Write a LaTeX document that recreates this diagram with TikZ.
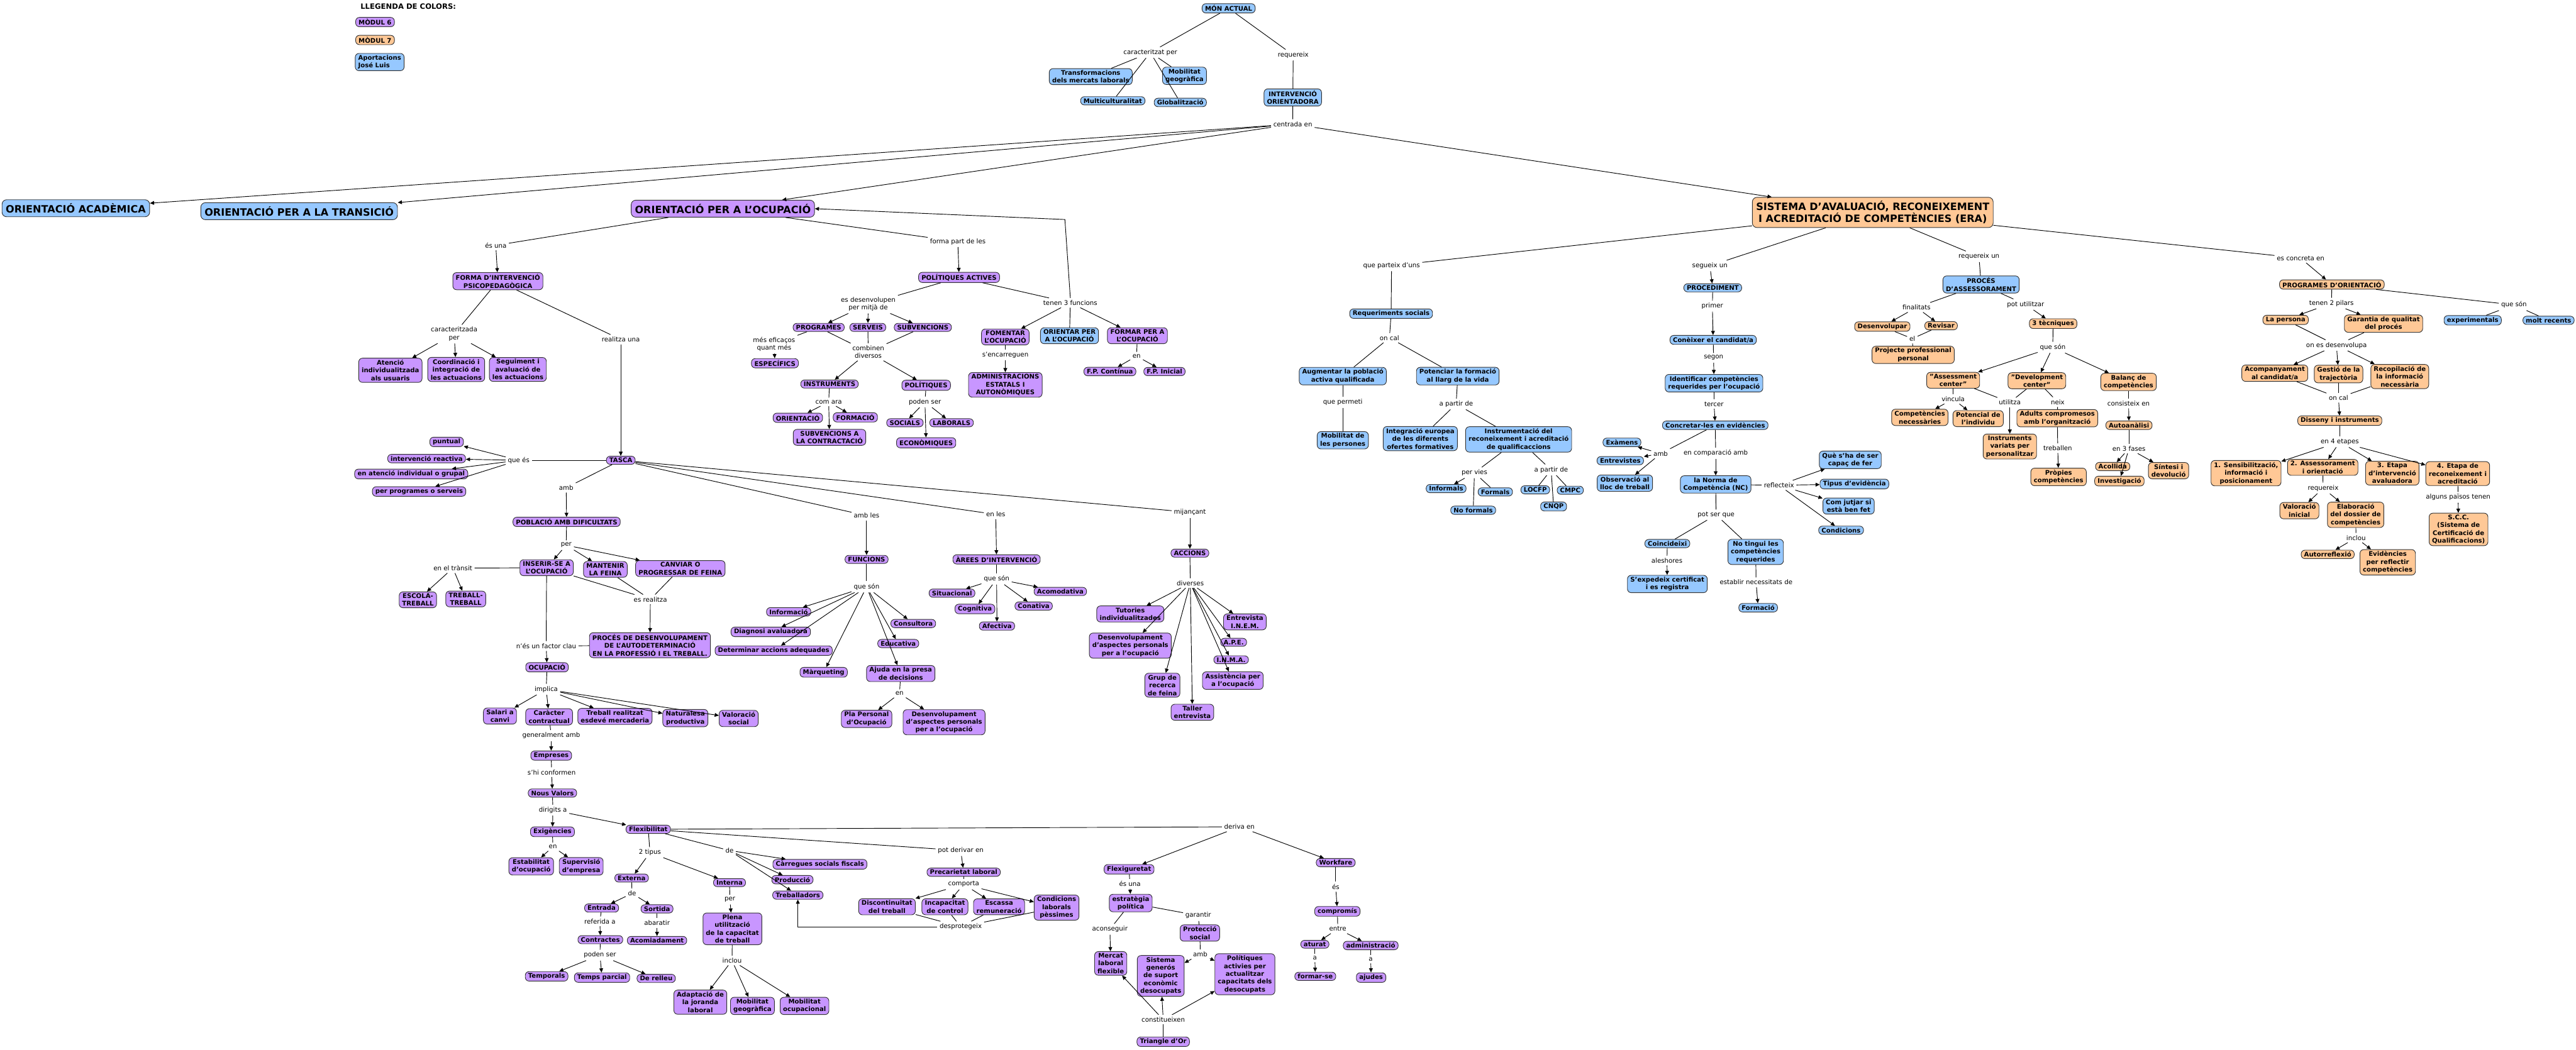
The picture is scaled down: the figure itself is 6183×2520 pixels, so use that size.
\documentclass[tikz,border=0pt]{standalone}
\usepackage{fontspec}
\setmainfont{DejaVu Sans}
\usepackage{tikz}
\usetikzlibrary{arrows.meta,positioning}
\definecolor{lila}{RGB}{200,150,255}
\definecolor{blau}{RGB}{150,200,255}
\definecolor{taronja}{RGB}{255,200,150}
\newcommand{\cmfont}{\fontsize{4.35}{5.35}\selectfont\bfseries}
\newcommand{\cmgran}{\fontsize{6.9}{8.2}\selectfont\bfseries}
\newcommand{\cmenllac}{\fontsize{4.4}{5.3}\selectfont}

\begin{document}
\begin{tikzpicture}[
	x=0.1mm, y=-0.1mm,
	box/.style={rectangle, rounded corners=0.9mm, draw=black!80, line width=0.4pt,
		align=center, font=\cmfont, inner xsep=0.7mm, inner ysep=0.4mm},
	pbox/.style={box, fill=lila},
	bbox/.style={box, fill=blau},
	obox/.style={box, fill=taronja},
	gran/.style={font=\cmgran, inner xsep=0.9mm, inner ysep=0.9mm, rounded corners=1.1mm},
	lbl/.style={font=\cmenllac, align=center, inner sep=0.5mm},
	lnk/.style={line width=0.4pt},
	arr/.style={lnk, -{Triangle[length=1mm, width=0.9mm]}}
	]
	\useasboundingbox (0,0) rectangle (6183,2520);
	
	% llegenda
	\node[font=\fontsize{5}{6}\selectfont\bfseries, anchor=west] (llegenda) at (853,16) {LLEGENDA DE COLORS:};
	\node[pbox, anchor=west] (mod6) at (853,53) {MÒDUL 6};
	\node[obox, anchor=west] (mod7) at (853,96) {MÒDUL 7};
	\node[bbox, anchor=west, align=left] (joseluis) at (852,149) {Aportacions\\José Luis};
	
	% món actual
	\node[bbox] (monactual) at (2949,20) {MÓN ACTUAL};
	\node[lbl] (caractper) at (2761,126) {caracteritzat per};
	\node[bbox] (transf) at (2618,184) {Transformacions\\dels mercats laborals};
	\node[bbox] (mobgeo) at (2843,182) {Mobilitat\\geogràfica};
	\node[bbox] (multicult) at (2671,242) {Multiculturalitat};
	\node[bbox] (global) at (2833,246) {Globalització};
	\node[lbl] (requereix) at (3104,132) {requereix};
	\node[bbox] (interv) at (3103,234) {INTERVENCIÓ\\ORIENTADORA};
	\node[lbl] (centrada) at (3103,298) {centrada en};
	\node[bbox, gran] (oacad) at (182,500) {ORIENTACIÓ ACADÈMICA};
	\node[bbox, gran] (otrans) at (718,507) {ORIENTACIÓ PER A LA TRANSICIÓ};
	\node[pbox, gran] (oocup) at (1735,501) {ORIENTACIÓ PER A L'OCUPACIÓ};
	\node[obox, gran] (sistema) at (4495,510) {SISTEMA D'AVALUACIÓ, RECONEIXEMENT\\I ACREDITACIÓ DE COMPETÈNCIES (ERA)};
	
	% orientació per a l'ocupació
	\node[lbl] (esuna) at (1190,589) {és una};
	\node[pbox] (forma) at (1195,675) {FORMA D'INTERVENCIÓ\\PSICOPEDAGÒGICA};
	\node[lbl] (caractzper) at (1090,802) {caracteritzada\\per};
	\node[pbox] (atencio) at (937,889) {Atenció\\individualitzada\\als usuaris};
	\node[pbox] (coordinacio) at (1095,887) {Coordinació i\\integració de\\les actuacions};
	\node[pbox] (seguiment) at (1243,887) {Seguiment i\\avaluació de\\les actuacions};
	\node[lbl] (realitzauna) at (1490,815) {realitza una};
	\node[pbox] (tasca) at (1490,1105) {TASCA};
	\node[lbl] (quees) at (1245,1105) {que és};
	\node[pbox] (puntual) at (1072,1061) {puntual};
	\node[pbox] (reactiva) at (1024,1101) {intervenció reactiva};
	\node[pbox] (grupal) at (987,1138) {en atenció individual o grupal};
	\node[pbox] (perprog) at (1006,1180) {per programes o serveis};
	\node[lbl] (amb) at (1359,1171) {amb};
	\node[pbox] (poblacio) at (1360,1253) {POBLACIÓ AMB DIFICULTATS};
	\node[lbl] (per) at (1359,1309) {per};
	\node[pbox] (inserir) at (1312,1363) {INSERIR-SE A\\L'OCUPACIÓ};
	\node[pbox] (mantenir) at (1453,1367) {MANTENIR\\LA FEINA};
	\node[pbox] (canviar) at (1633,1365) {CANVIAR O\\PROGRESSAR DE FEINA};
	\node[lbl] (transit) at (1087,1364) {en el trànsit};
	\node[pbox] (escola) at (1003,1440) {ESCOLA-\\TREBALL};
	\node[pbox] (treball) at (1118,1438) {TREBALL-\\TREBALL};
	\node[lbl] (esrealitza) at (1561,1439) {es realitza};
	\node[pbox] (determinar) at (1857,1562) {Determinar accions adequades};
	\node[pbox] (proces) at (1560,1549) {PROCÉS DE DESENVOLUPAMENT\\DE L'AUTODETERMINACIÓ\\EN LA PROFESSIÓ I EL TREBALL.};
	\node[lbl] (factorclau) at (1311,1551) {n'és un factor clau};
	\node[pbox] (ocupacio) at (1313,1602) {OCUPACIÓ};
	\node[lbl] (implica) at (1311,1655) {implica};
	\node[pbox] (salari) at (1200,1719) {Salari a\\canvi};
	\node[pbox] (caracter) at (1318,1721) {Caràcter\\contractual};
	\node[pbox] (mercaderia) at (1476,1720) {Treball realitzat\\esdevé mercaderia};
	\node[pbox] (naturalesa) at (1645,1724) {Naturalesa\\productiva};
	\node[pbox] (valoracio) at (1773,1725) {Valoració\\social};
	\node[lbl] (generalment) at (1323,1766) {generalment amb};
	\node[pbox] (empreses) at (1323,1814) {Empreses};
	\node[lbl] (conformen) at (1324,1854) {s'hi conformen};
	\node[pbox] (nousvalors) at (1326,1904) {Nous Valors};
	\node[lbl] (dirigits) at (1327,1945) {dirigits a};
	\node[pbox] (exigencies) at (1326,1997) {Exigències};
	\node[pbox] (flexibilitat) at (1556,1991) {Flexibilitat};
	\node[lbl] (en1) at (1327,2033) {en};
	\node[pbox] (estabilitat) at (1275,2080) {Estabilitat\\d'ocupació};
	\node[pbox] (supervisio) at (1395,2080) {Supervisió\\d'empresa};
	\node[lbl] (dostipus) at (1560,2047) {2 tipus};
	\node[pbox] (externa) at (1516,2108) {Externa};
	\node[lbl] (de1) at (1517,2145) {de};
	\node[pbox] (entrada) at (1444,2180) {Entrada};
	\node[pbox] (sortida) at (1577,2182) {Sortida};
	\node[lbl] (referida) at (1440,2212) {referida a};
	\node[lbl] (abaratir) at (1577,2216) {abaratir};
	\node[pbox] (contractes) at (1441,2256) {Contractes};
	\node[pbox] (acomiadament) at (1577,2258) {Acomiadament};
	\node[lbl] (podenser2) at (1440,2293) {poden ser};
	\node[pbox] (temporals) at (1312,2344) {Temporals};
	\node[pbox] (parcial) at (1445,2347) {Temps parcial};
	\node[pbox] (relleu) at (1575,2349) {De relleu};
	\node[lbl] (de2) at (1751,2042) {de};
	\node[pbox] (interna) at (1751,2119) {Interna};
	\node[lbl] (per2) at (1752,2160) {per};
	\node[pbox] (plena) at (1758,2230) {Plena\\utilització\\de la capacitat\\de treball};
	\node[lbl] (inclou1) at (1757,2306) {inclou};
	\node[pbox] (adaptacio) at (1681,2406) {Adaptació de\\la joranda\\laboral};
	\node[pbox] (mobgeo2) at (1806,2415) {Mobilitat\\geogràfica};
	\node[pbox] (mobocup) at (1931,2415) {Mobilitat\\ocupacional};
	\node[pbox] (carregues) at (1968,2075) {Càrregues socials fiscals};
	\node[pbox] (produccio) at (1902,2112) {Producció};
	\node[pbox] (treballadors) at (1915,2149) {Treballadors};
	\node[lbl] (potderivar) at (2306,2042) {pot derivar en};
	\node[pbox] (precarietat) at (2313,2094) {Precarietat laboral};
	\node[lbl] (comporta) at (2313,2123) {comporta};
	\node[pbox] (discontinuitat) at (2129,2177) {Discontinuitat\\del treball};
	\node[pbox] (incapacitat) at (2268,2177) {Incapacitat\\de control};
	\node[pbox] (escassa) at (2398,2177) {Escassa\\remuneració};
	\node[pbox] (condicionsp) at (2536,2179) {Condicions\\laborals\\pèssimes};
	\node[lbl] (desprotegeix) at (2306,2225) {desprotegeix};
	\node[lbl] (derivaen) at (2975,1985) {deriva en};
	\node[pbox] (flexiguretat) at (2710,2087) {Flexiguretat};
	\node[lbl] (esuna2) at (2712,2122) {és una};
	\node[pbox] (estrategia) at (2714,2168) {estratègia\\política};
	\node[lbl] (garantir) at (2876,2198) {garantir};
	\node[lbl] (aconseguir) at (2664,2231) {aconseguir};
	\node[pbox] (proteccio) at (2880,2240) {Protecció\\social};
	\node[lbl] (amb2) at (2881,2291) {amb};
	\node[pbox] (mercat) at (2666,2313) {Mercat\\laboral\\flexible};
	\node[pbox] (generos) at (2786,2343) {Sistema\\generós\\de suport\\econòmic\\desocupats};
	\node[pbox] (polact2) at (2988,2339) {Polítiques\\activies per\\actualitzar\\capacitats dels\\desocupats};
	\node[lbl] (constitueixen) at (2792,2448) {constitueixen};
	\node[pbox] (triangle) at (2792,2501) {Triangle d'Or};
	\node[pbox] (workfare) at (3206,2071) {Workfare};
	\node[lbl] (es) at (3206,2129) {és};
	\node[pbox] (compromis) at (3210,2188) {compromís};
	\node[lbl] (entre) at (3211,2230) {entre};
	\node[pbox] (aturat) at (3156,2267) {aturat};
	\node[pbox] (administracio) at (3290,2270) {administració};
	\node[lbl] (a1) at (3156,2300) {a};
	\node[lbl] (a2) at (3290,2303) {a};
	\node[pbox] (formarse) at (3157,2344) {formar-se};
	\node[pbox] (ajudes) at (3291,2347) {ajudes};
	
	% polítiques actives
	\node[lbl] (formapart) at (2299,580) {forma part de les};
	\node[pbox] (polactives) at (2302,666) {POLÍTIQUES ACTIVES};
	\node[lbl] (desenvolupen) at (2084,730) {es desenvolupen\\per mitjà de};
	\node[lbl] (tenen3) at (2569,727) {tenen 3 funcions};
	\node[pbox] (programes) at (1965,786) {PROGRAMES};
	\node[pbox] (serveis) at (2083,786) {SERVEIS};
	\node[pbox] (subvencions) at (2215,786) {SUBVENCIONS};
	\node[pbox] (fomentar) at (2413,809) {FOMENTAR\\L'OCUPACIÓ};
	\node[bbox] (orientar) at (2567,806) {ORIENTAR PER\\A L'OCUPACIÓ};
	\node[pbox] (formar) at (2730,806) {FORMAR PER A\\L'OCUPACIÓ};
	\node[lbl] (eficacos) at (1858,826) {més eficaços\\quant més};
	\node[lbl] (combinen) at (2084,845) {combinen\\diversos};
	\node[pbox] (especifics) at (1860,872) {ESPECÍFICS};
	\node[lbl] (encarreguen) at (2413,852) {s'encarreguen};
	\node[pbox] (administracions) at (2413,924) {ADMINISTRACIONS\\ESTATALS I\\AUTONÒMIQUES};
	\node[lbl] (en2) at (2728,855) {en};
	\node[pbox] (fpcontinua) at (2664,892) {F.P. Contínua};
	\node[pbox] (fpinicial) at (2795,892) {F.P. Inicial};
	\node[pbox] (instruments) at (1991,922) {INSTRUMENTS};
	\node[pbox] (politiques) at (2223,925) {POLÍTIQUES};
	\node[lbl] (comara) at (1989,965) {com ara};
	\node[pbox] (orientacio) at (1915,1003) {ORIENTACIÓ};
	\node[pbox] (formacio) at (2053,1002) {FORMACIÓ};
	\node[pbox] (subvcontr) at (1991,1050) {SUBVENCIONS A\\LA CONTRACTACIÓ};
	\node[lbl] (podenser) at (2220,965) {poden ser};
	\node[pbox] (socials) at (2172,1015) {SOCIALS};
	\node[pbox] (laborals) at (2284,1015) {LABORALS};
	\node[pbox] (economiques) at (2223,1063) {ECONÒMIQUES};
	
	% funcions, àrees i accions
	\node[lbl] (ambles) at (2080,1238) {amb les};
	\node[lbl] (enles) at (2390,1235) {en les};
	\node[lbl] (mijancant) at (2856,1230) {mijançant};
	\node[pbox] (funcions) at (2080,1343) {FUNCIONS};
	\node[pbox] (arees) at (2392,1343) {ÀREES D'INTERVENCIÓ};
	\node[pbox] (accions) at (2856,1328) {ACCIONS};
	\node[lbl] (queson1) at (2080,1409) {que són};
	\node[pbox] (informacio) at (1893,1469) {Informació};
	\node[pbox] (diagnosi) at (1850,1517) {Diagnosi avaluadora};
	\node[pbox] (consultora) at (2192,1497) {Consultora};
	\node[pbox] (educativa) at (2156,1545) {Educativa};
	\node[pbox] (marqueting) at (1977,1614) {Màrqueting};
	\node[pbox] (ajuda) at (2162,1617) {Ajuda en la presa\\de decisions};
	\node[lbl] (en3) at (2159,1665) {en};
	\node[pbox] (pla) at (2080,1726) {Pla Personal\\d'Ocupació};
	\node[pbox] (desenv2) at (2266,1734) {Desenvolupament\\d'aspectes personals\\per a l'ocupació};
	\node[lbl] (queson2) at (2392,1390) {que són};
	\node[pbox] (situacional) at (2285,1424) {Situacional};
	\node[pbox] (acomodativa) at (2545,1420) {Acomodativa};
	\node[pbox] (cognitiva) at (2340,1462) {Cognitiva};
	\node[pbox] (conativa) at (2481,1455) {Conativa};
	\node[pbox] (afectiva) at (2393,1503) {Afectiva};
	\node[lbl] (diverses) at (2857,1400) {diverses};
	\node[pbox] (tutories) at (2713,1474) {Tutories\\individualitzades};
	\node[pbox] (entrevista) at (2988,1493) {Entrevista\\I.N.E.M.};
	\node[pbox] (desenv1) at (2713,1550) {Desenvolupament\\d'aspectes personals\\per a l'ocupació};
	\node[pbox] (ape) at (2961,1542) {A.P.E.};
	\node[pbox] (inma) at (2955,1584) {I.N.M.A.};
	\node[pbox] (grup) at (2790,1645) {Grup de\\recerca\\de feina};
	\node[pbox] (assistencia) at (2959,1634) {Assistència per\\a l'ocupació};
	\node[pbox] (taller) at (2862,1710) {Taller\\entrevista};
	
	% sistema ERA
	\node[lbl] (parteix) at (3340,638) {que parteix d'uns};
	\node[lbl] (segueix) at (4104,638) {segueix un};
	\node[lbl] (requereixun) at (4750,616) {requereix un};
	\node[lbl] (concreta) at (5522,620) {es concreta en};
	\node[bbox] (requeriments) at (3339,753) {Requeriments socials};
	\node[lbl] (oncal1) at (3335,811) {on cal};
	\node[bbox] (augmentar) at (3223,903) {Augmentar la població\\activa qualificada};
	\node[bbox] (potenciar) at (3499,903) {Potenciar la formació\\al llarg de la vida};
	\node[lbl] (permeti) at (3223,966) {que permeti};
	\node[lbl] (apartir1) at (3495,970) {a partir de};
	\node[bbox] (mobpers) at (3223,1057) {Mobilitat de\\les persones};
	\node[bbox] (integracio) at (3409,1053) {Integració europea\\de les diferents\\ofertes formatives};
	\node[bbox] (instrumentacio) at (3645,1055) {Instrumentació del\\reconeixement i acreditació\\de qualificaccions};
	\node[lbl] (pervies) at (3539,1135) {per vies};
	\node[lbl] (apartir2) at (3723,1128) {a partir de};
	\node[bbox] (informals) at (3471,1173) {Informals};
	\node[bbox] (formals) at (3589,1181) {Formals};
	\node[bbox] (noformals) at (3536,1225) {No formals};
	\node[bbox] (locfp) at (3685,1176) {LOCFP};
	\node[bbox] (cmpc) at (3769,1177) {CMPC};
	\node[bbox] (cnqp) at (3729,1216) {CNQP};
	\node[bbox] (procediment) at (4111,691) {PROCEDIMENT};
	\node[lbl] (primer) at (4110,735) {primer};
	\node[bbox] (coneixer) at (4112,816) {Conèixer el candidat/a};
	\node[lbl] (segon) at (4113,859) {segon};
	\node[bbox] (identificar) at (4114,920) {Identificar competències\\requerides per l'ocupació};
	\node[lbl] (tercer) at (4114,970) {tercer};
	\node[bbox] (concretar) at (4117,1021) {Concretar-les en evidències};
	\node[lbl] (amb3) at (3986,1089) {amb};
	\node[lbl] (comparacio) at (4118,1088) {en comparació amb};
	\node[bbox] (examens) at (3893,1062) {Exàmens};
	\node[bbox] (entrevistes) at (3889,1106) {Entrevistes};
	\node[bbox] (observacio) at (3900,1160) {Observació al\\lloc de treball};
	\node[bbox] (norma) at (4118,1163) {la Norma de\\Competència (NC)};
	\node[lbl] (reflecteix) at (4270,1165) {reflecteix};
	\node[bbox] (quesha) at (4441,1104) {Què s'ha de ser\\capaç de fer};
	\node[bbox] (tipus) at (4451,1162) {Tipus d'evidència};
	\node[bbox] (jutjar) at (4437,1215) {Com jutjar si\\està ben fet};
	\node[bbox] (condicions) at (4419,1273) {Condicions};
	\node[lbl] (potser) at (4119,1236) {pot ser que};
	\node[bbox] (coincideixi) at (4002,1305) {Coincideixi};
	\node[bbox] (notingui) at (4214,1325) {No tingui les\\competències\\requerides};
	\node[lbl] (aleshores) at (4001,1346) {aleshores};
	\node[bbox] (expedeix) at (4002,1402) {S'expedeix certificat\\i es registra};
	\node[lbl] (establir) at (4215,1398) {establir necessitats de};
	\node[bbox] (formaciob) at (4220,1459) {Formació};
	\node[bbox] (procass) at (4755,683) {PROCÉS\\D'ASSESSORAMENT};
	\node[lbl] (finalitats) at (4600,738) {finalitats};
	\node[obox] (desenvolupar) at (4518,784) {Desenvolupar};
	\node[obox] (revisar) at (4659,782) {Revisar};
	\node[lbl] (el) at (4590,813) {el};
	\node[obox] (projecte) at (4592,852) {Projecte professional\\personal};
	\node[lbl] (potutilitzar) at (4862,731) {pot utilitzar};
	\node[obox] (tecniques) at (4928,777) {3 tècniques};
	\node[lbl] (queson3) at (4927,834) {que són};
	\node[obox] (assessment) at (4688,913) {"Assessment\\center"};
	\node[obox] (development) at (4889,914) {"Development\\center"};
	\node[obox] (balanc) at (5109,917) {Balanç de\\competències};
	\node[lbl] (vincula) at (4688,958) {vincula};
	\node[lbl] (utilitza) at (4824,966) {utilitza};
	\node[lbl] (neix) at (4939,965) {neix};
	\node[lbl] (consisteix) at (5109,969) {consisteix en};
	\node[obox] (competencies) at (4608,1002) {Competències\\necessàries};
	\node[obox] (potencial) at (4748,1005) {Potencial de\\l'individu};
	\node[obox] (adults) at (4938,1004) {Adults compromesos\\amb l'organització};
	\node[obox] (instrvariats) at (4824,1072) {Instruments\\variats per\\personalitzar};
	\node[obox] (autoanalisi) at (5110,1021) {Autoanàlisi};
	\node[lbl] (treballen) at (4939,1076) {treballen};
	\node[lbl] (fases) at (5110,1077) {en 3 fases};
	\node[obox] (propies) at (4941,1145) {Pròpies\\competències};
	\node[obox] (acollida) at (5071,1120) {Acollida};
	\node[obox] (investigacio) at (5087,1155) {Investigació};
	\node[obox] (sintesi) at (5205,1130) {Síntesi i\\devolució};
	\node[obox] (progor) at (5597,683) {PROGRAMES D'ORIENTACIÓ};
	\node[lbl] (pilars) at (5596,728) {tenen 2 pilars};
	\node[lbl] (queson4) at (6034,732) {que són};
	\node[obox] (persona) at (5486,768) {La persona};
	\node[obox] (garantia) at (5721,777) {Garantia de qualitat\\del procés};
	\node[bbox] (experimentals) at (5935,769) {experimentals};
	\node[bbox] (moltrecents) at (6117,769) {molt recents};
	\node[lbl] (desenvolupa) at (5608,829) {on es desenvolupa};
	\node[obox] (acompanyament) at (5460,896) {Acompanyament\\al candidat/a};
	\node[obox] (gestio) at (5613,898) {Gestió de la\\trajectòria};
	\node[obox] (recopilacio) at (5760,904) {Recopilació de\\la informació\\necessària};
	\node[lbl] (oncal2) at (5613,955) {on cal};
	\node[obox] (disseny) at (5616,1010) {Disseny i instruments};
	\node[lbl] (etapes) at (5616,1061) {en 4 etapes};
	\node[obox] (etapa1) at (5391,1136) {1. Sensibilització,\\informació i\\posicionament};
	\node[obox] (etapa2) at (5575,1122) {2. Assessorament\\i orientació};
	\node[obox] (etapa3) at (5742,1136) {3. Etapa\\d'intervenció\\avaluadora};
	\node[obox] (etapa4) at (5899,1137) {4. Etapa de\\reconeixement i\\acreditació};
	\node[lbl] (requereix2) at (5576,1172) {requereix};
	\node[lbl] (paisos) at (5900,1194) {alguns països tenen};
	\node[obox] (valinicial) at (5519,1226) {Valoració\\inicial};
	\node[obox] (elaboracio) at (5654,1236) {Elaboració\\del dossier de\\competències};
	\node[obox] (scc) at (5901,1271) {S.C.C.\\(Sistema de\\Certificació de\\Qualificacions)};
	\node[lbl] (inclou2) at (5655,1291) {inclou};
	\node[obox] (autorreflexio) at (5587,1331) {Autorreflexió};
	\node[obox] (evidencies) at (5731,1350) {Evidències\\per reflectir\\competències};
	
	% connexions
	\draw[lnk] (monactual) -- (caractper);
	\foreach \n in {transf,multicult,global,mobgeo} \draw[lnk] (caractper) -- (\n);
	\draw[lnk] (monactual) -- (requereix) -- (interv) -- (centrada);
	\foreach \n in {oacad,otrans,oocup,sistema} \draw[arr] (centrada) -- (\n);
	
	\draw[lnk] (oocup) -- (esuna); \draw[arr] (esuna) -- (forma);
	\draw[lnk] (oocup) -- (formapart); \draw[arr] (formapart) -- (polactives);
	\draw[lnk] (forma) -- (caractzper);
	\foreach \n in {atencio,coordinacio,seguiment} \draw[arr] (caractzper) -- (\n);
	\draw[lnk] (forma) -- (realitzauna); \draw[arr] (realitzauna) -- (tasca);
	\draw[lnk] (tasca) -- (quees);
	\foreach \n in {puntual,reactiva,grupal,perprog} \draw[arr] (quees) -- (\n);
	\draw[lnk] (tasca) -- (amb); \draw[arr] (amb) -- (poblacio);
	\draw[lnk] (poblacio) -- (per);
	\foreach \n in {inserir,mantenir,canviar} \draw[arr] (per) -- (\n);
	\draw[lnk] (inserir) -- (transit);
	\foreach \n in {escola,treball} \draw[arr] (transit) -- (\n);
	\foreach \n in {inserir,mantenir,canviar} \draw[lnk] (\n) -- (esrealitza);
	\draw[arr] (esrealitza) -- (proces);
	\draw[lnk] (inserir) -- (factorclau); \draw[lnk] (proces) -- (factorclau);
	\draw[arr] (factorclau) -- (ocupacio);
	\draw[lnk] (ocupacio) -- (implica);
	\foreach \n in {salari,caracter,mercaderia,naturalesa,valoracio} \draw[arr] (implica) -- (\n);
	\draw[lnk] (caracter) -- (generalment); \draw[arr] (generalment) -- (empreses);
	\draw[lnk] (empreses) -- (conformen); \draw[arr] (conformen) -- (nousvalors);
	\draw[lnk] (nousvalors) -- (dirigits);
	\foreach \n in {exigencies,flexibilitat} \draw[arr] (dirigits) -- (\n);
	\draw[lnk] (exigencies) -- (en1);
	\foreach \n in {estabilitat,supervisio} \draw[arr] (en1) -- (\n);
	\draw[lnk] (flexibilitat) -- (dostipus);
	\foreach \n in {externa,interna} \draw[arr] (dostipus) -- (\n);
	\draw[lnk] (externa) -- (de1);
	\foreach \n in {entrada,sortida} \draw[arr] (de1) -- (\n);
	\draw[lnk] (entrada) -- (referida); \draw[arr] (referida) -- (contractes);
	\draw[lnk] (sortida) -- (abaratir); \draw[arr] (abaratir) -- (acomiadament);
	\draw[lnk] (contractes) -- (podenser2);
	\foreach \n in {temporals,parcial,relleu} \draw[arr] (podenser2) -- (\n);
	\draw[lnk] (interna) -- (per2); \draw[arr] (per2) -- (plena);
	\draw[lnk] (plena) -- (inclou1);
	\foreach \n in {adaptacio,mobgeo2,mobocup} \draw[arr] (inclou1) -- (\n);
	\draw[lnk] (flexibilitat) -- (de2);
	\foreach \n in {carregues,produccio,treballadors} \draw[arr] (de2) -- (\n);
	\draw[lnk] (flexibilitat) -- (potderivar); \draw[arr] (potderivar) -- (precarietat);
	\draw[lnk] (precarietat) -- (comporta);
	\foreach \n in {discontinuitat,incapacitat,escassa,condicionsp} {
		\draw[arr] (comporta) -- (\n);
		\draw[lnk] (\n) -- (desprotegeix);
	}
	\draw[arr] (desprotegeix.west) -| (treballadors.south);
	\draw[lnk] (flexibilitat) -- (derivaen);
	\foreach \n in {flexiguretat,workfare} \draw[arr] (derivaen) -- (\n);
	\draw[lnk] (flexiguretat) -- (esuna2); \draw[arr] (esuna2) -- (estrategia);
	\draw[lnk] (estrategia) -- (garantir) -- (proteccio);
	\draw[lnk] (estrategia) -- (aconseguir); \draw[arr] (aconseguir) -- (mercat);
	\draw[lnk] (proteccio) -- (amb2);
	\foreach \n in {generos,polact2} \draw[arr] (amb2) -- (\n);
	\draw[lnk] (triangle) -- (constitueixen);
	\foreach \n in {mercat,generos,polact2} \draw[arr] (constitueixen) -- (\n);
	\draw[lnk] (workfare) -- (es); \draw[arr] (es) -- (compromis);
	\draw[lnk] (compromis) -- (entre);
	\foreach \n in {aturat,administracio} \draw[arr] (entre) -- (\n);
	\draw[lnk] (aturat) -- (a1); \draw[arr] (a1) -- (formarse);
	\draw[lnk] (administracio) -- (a2); \draw[arr] (a2) -- (ajudes);
	
	\draw[lnk] (polactives) -- (desenvolupen);
	\foreach \n in {programes,serveis,subvencions} {
		\draw[arr] (desenvolupen) -- (\n);
		\draw[lnk] (\n) -- (combinen);
	}
	\foreach \n in {instruments,politiques} \draw[arr] (combinen) -- (\n);
	\draw[lnk] (programes) -- (eficacos); \draw[arr] (eficacos) -- (especifics);
	\draw[lnk] (instruments) -- (comara);
	\foreach \n in {orientacio,formacio,subvcontr} \draw[arr] (comara) -- (\n);
	\draw[lnk] (politiques) -- (podenser);
	\foreach \n in {socials,laborals,economiques} \draw[arr] (podenser) -- (\n);
	\draw[lnk] (polactives) -- (tenen3);
	\foreach \n in {fomentar,formar} \draw[arr] (tenen3) -- (\n);
	\draw[lnk] (orientar) -- (tenen3);
	\coordinate (colze) at (2556,527);
	\draw[arr] (tenen3.north) -- (colze) -- (oocup.east);
	\draw[lnk] (fomentar) -- (encarreguen); \draw[arr] (encarreguen) -- (administracions);
	\draw[lnk] (formar) -- (en2);
	\foreach \n in {fpcontinua,fpinicial} \draw[arr] (en2) -- (\n);
	
	\draw[lnk] (tasca) -- (ambles); \draw[arr] (ambles) -- (funcions);
	\draw[lnk] (tasca) -- (enles); \draw[arr] (enles) -- (arees);
	\draw[lnk] (tasca) -- (mijancant); \draw[arr] (mijancant) -- (accions);
	\draw[lnk] (funcions) -- (queson1);
	\foreach \n in {informacio,diagnosi,determinar,marqueting,ajuda,educativa,consultora} \draw[arr] (queson1) -- (\n);
	\draw[lnk] (ajuda) -- (en3);
	\foreach \n in {pla,desenv2} \draw[arr] (en3) -- (\n);
	\draw[lnk] (arees) -- (queson2);
	\foreach \n in {situacional,cognitiva,afectiva,conativa,acomodativa} \draw[arr] (queson2) -- (\n);
	\draw[lnk] (accions) -- (diverses);
	\foreach \n in {tutories,desenv1,grup,taller,assistencia,inma,ape,entrevista} \draw[arr] (diverses) -- (\n);
	
	\draw[lnk] (sistema) -- (parteix) -- (requeriments) -- (oncal1);
	\foreach \n in {augmentar,potenciar} \draw[lnk] (oncal1) -- (\n);
	\draw[lnk] (augmentar) -- (permeti) -- (mobpers);
	\draw[lnk] (potenciar) -- (apartir1);
	\foreach \n in {integracio,instrumentacio} \draw[lnk] (apartir1) -- (\n);
	\draw[lnk] (instrumentacio) -- (pervies);
	\draw[arr] (pervies) -- (informals);
	\foreach \n in {formals,noformals} \draw[lnk] (pervies) -- (\n);
	\draw[lnk] (instrumentacio) -- (apartir2);
	\foreach \n in {locfp,cnqp,cmpc} \draw[lnk] (apartir2) -- (\n);
	\draw[lnk] (sistema) -- (segueix); \draw[arr] (segueix) -- (procediment);
	\draw[lnk] (procediment) -- (primer); \draw[arr] (primer) -- (coneixer);
	\draw[lnk] (coneixer) -- (segon); \draw[arr] (segon) -- (identificar);
	\draw[lnk] (identificar) -- (tercer); \draw[arr] (tercer) -- (concretar);
	\draw[lnk] (concretar) -- (amb3);
	\foreach \n in {examens,entrevistes,observacio} \draw[arr] (amb3) -- (\n);
	\draw[lnk] (concretar) -- (comparacio); \draw[arr] (comparacio) -- (norma);
	\draw[lnk] (norma) -- (reflecteix);
	\foreach \n in {quesha,tipus,jutjar,condicions} \draw[arr] (reflecteix) -- (\n);
	\draw[lnk] (norma) -- (potser);
	\foreach \n in {coincideixi,notingui} \draw[lnk] (potser) -- (\n);
	\draw[lnk] (coincideixi) -- (aleshores); \draw[arr] (aleshores) -- (expedeix);
	\draw[lnk] (notingui) -- (establir); \draw[arr] (establir) -- (formaciob);
	\draw[lnk] (sistema) -- (requereixun) -- (procass);
	\draw[lnk] (procass) -- (finalitats);
	\foreach \n in {desenvolupar,revisar} {
		\draw[arr] (finalitats) -- (\n);
		\draw[lnk] (\n) -- (el);
	}
	\draw[lnk] (el) -- (projecte);
	\draw[lnk] (procass) -- (potutilitzar); \draw[arr] (potutilitzar) -- (tecniques);
	\draw[lnk] (tecniques) -- (queson3);
	\foreach \n in {assessment,development,balanc} \draw[arr] (queson3) -- (\n);
	\draw[lnk] (assessment) -- (vincula);
	\foreach \n in {competencies,potencial} \draw[arr] (vincula) -- (\n);
	\foreach \n in {assessment,development} \draw[lnk] (\n) -- (utilitza);
	\draw[arr] (utilitza) -- (instrvariats);
	\draw[lnk] (development) -- (neix) -- (adults);
	\draw[lnk] (adults) -- (treballen); \draw[arr] (treballen) -- (propies);
	\draw[lnk] (balanc) -- (consisteix); \draw[arr] (consisteix) -- (autoanalisi);
	\draw[lnk] (autoanalisi) -- (fases);
	\foreach \n in {acollida,investigacio,sintesi} \draw[arr] (fases) -- (\n);
	\draw[lnk] (sistema) -- (concreta); \draw[arr] (concreta) -- (progor);
	\draw[lnk] (progor) -- (pilars);
	\foreach \n in {persona,garantia} {
		\draw[arr] (pilars) -- (\n);
		\draw[lnk] (\n) -- (desenvolupa);
	}
	\draw[lnk] (progor) -- (queson4);
	\foreach \n in {experimentals,moltrecents} \draw[lnk] (queson4) -- (\n);
	\foreach \n in {acompanyament,gestio,recopilacio} {
		\draw[arr] (desenvolupa) -- (\n);
		\draw[lnk] (\n) -- (oncal2);
	}
	\draw[arr] (oncal2) -- (disseny);
	\draw[lnk] (disseny) -- (etapes);
	\foreach \n in {etapa1,etapa2,etapa3,etapa4} \draw[arr] (etapes) -- (\n);
	\draw[lnk] (etapa2) -- (requereix2);
	\foreach \n in {valinicial,elaboracio} \draw[arr] (requereix2) -- (\n);
	\draw[lnk] (elaboracio) -- (inclou2);
	\foreach \n in {autorreflexio,evidencies} \draw[arr] (inclou2) -- (\n);
	\draw[lnk] (etapa4) -- (paisos); \draw[arr] (paisos) -- (scc);
\end{tikzpicture}
\end{document}
